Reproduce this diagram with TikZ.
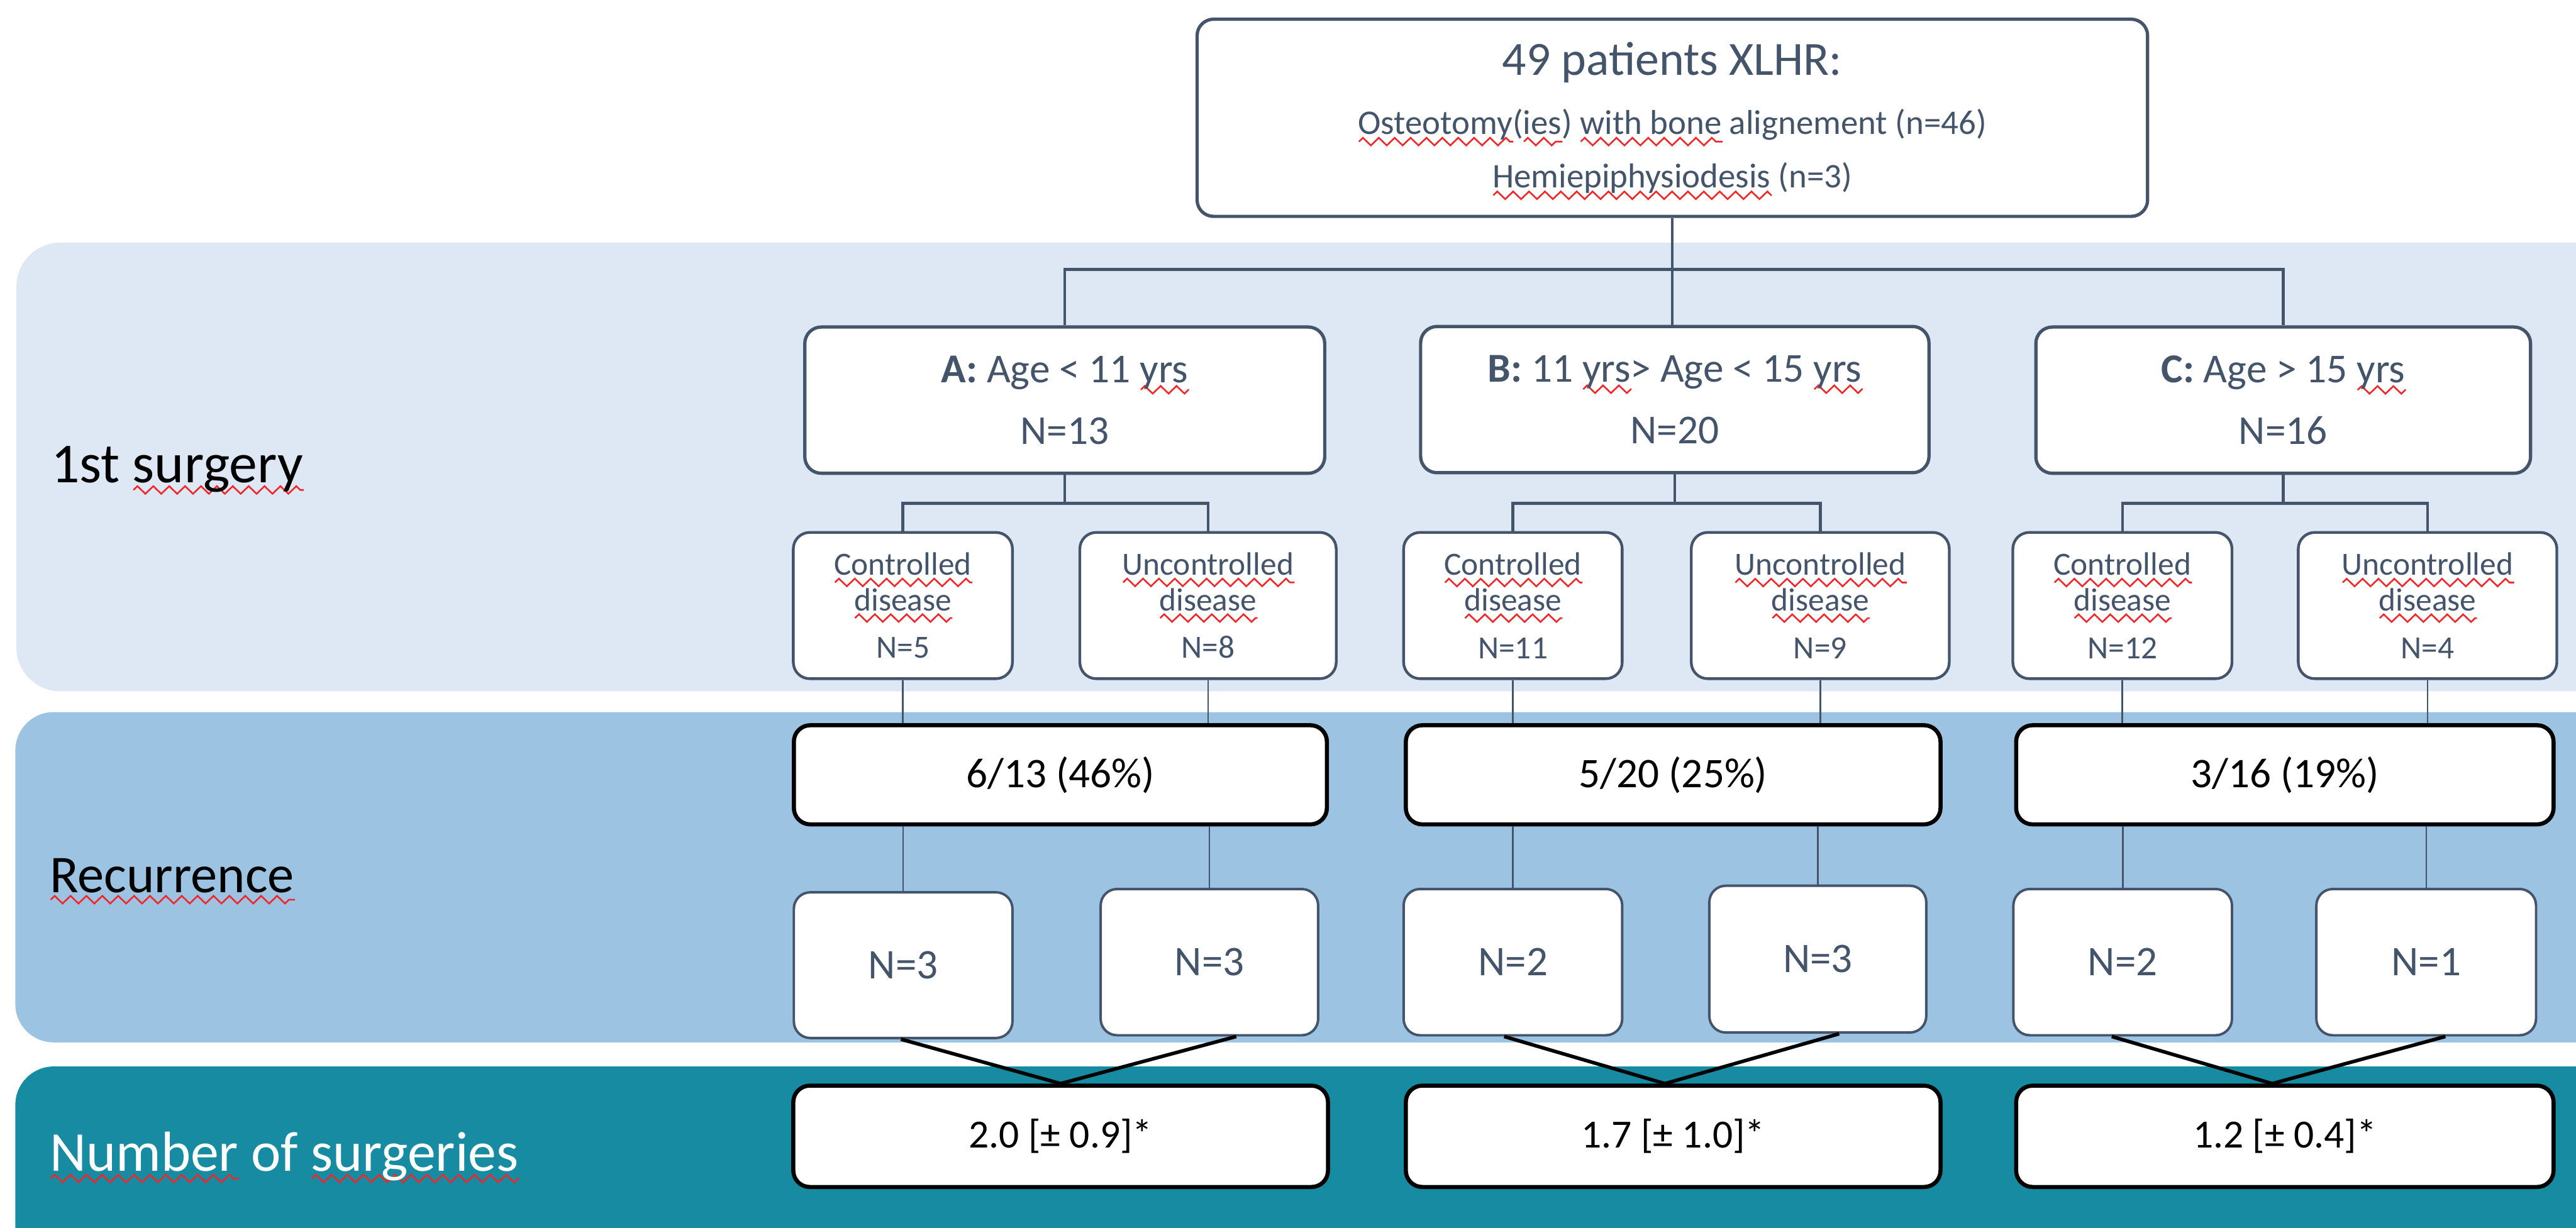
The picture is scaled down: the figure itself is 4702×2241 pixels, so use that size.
\documentclass[tikz,border=0pt]{standalone}
\usepackage{fontspec}
\setmainfont{Carlito}
\usepackage{xcolor}
\usetikzlibrary{decorations.pathmorphing}
\definecolor{slate}{HTML}{44546A}
\definecolor{bandA}{HTML}{DDE8F4}
\definecolor{bandB}{HTML}{9DC3E2}
\definecolor{bandC}{HTML}{168BA2}
\definecolor{sqred}{HTML}{F0282A}
\newsavebox\sqbox
\newcommand\sq[1]{\sbox\sqbox{#1}\leavevmode\rlap{\smash{\tikz[baseline=0pt,x=1pt,y=1pt]\draw[sqred,line width=0.3pt,sharp corners,line join=miter,decorate,decoration={zigzag,segment length=2.9pt,amplitude=0.7pt}] (0pt,-1.35pt) -- (\the\wd\sqbox,-1.35pt);}}\usebox\sqbox}
\tikzset{
  wbox/.style={draw=slate, fill=white, rounded corners=3pt, line width=0.6pt, align=center, inner sep=0pt, text=slate},
  agebox/.style={wbox, minimum height=26.7pt, font=\fontsize{7.5}{11.3}\selectfont},
  subbox/.style={wbox, line width=0.5pt, minimum height=26.7pt, font=\fontsize{5.9}{6.5}\selectfont},
  recbox/.style={wbox, draw=black, text=black, line width=0.75pt, minimum height=18.1pt, font=\fontsize{7.7}{9}\selectfont},
  nbox/.style={wbox, line width=0.45pt, font=\fontsize{7.7}{9}\selectfont},
  numbox/.style={recbox, minimum height=18.5pt, font=\fontsize{7.3}{9}\selectfont},
  conn/.style={draw=slate, line width=0.5pt},
  thinconn/.style={draw=slate, line width=0.3pt},
  vline/.style={draw=black, line width=0.65pt},
  bandlabel/.style={anchor=base west, inner sep=0pt},
  toptext/.style={anchor=base, inner sep=0pt, text=slate}
}
\begin{document}
\begin{tikzpicture}[x=0.1pt,y=-0.1pt]
\useasboundingbox (0,0) rectangle (4702,2241);
\clip (0,0) rectangle (4702,2241);
% bands
\fill[bandA, rounded corners=8pt] (30,443) rectangle (4900,1262);
\fill[bandB, rounded corners=7pt] (28,1300) rectangle (4900,1903);
\fill[bandC, rounded corners=7pt] (28,1947) rectangle (4900,2400);
% band labels
\node[bandlabel, font=\fontsize{10.3}{12}\selectfont] (lab1) at (91,881) {1st \sq{surgery}};
\node[bandlabel, font=\fontsize{9.7}{12}\selectfont] (lab2) at (89,1629) {\sq{Recurrence}};
\node[bandlabel, text=white, font=\fontsize{10.3}{12}\selectfont] (lab3) at (89,2138) {\sq{Number} of \sq{surgeries}};
% top box
\node[wbox, minimum width=173.5pt, minimum height=36pt] (top) at (3052.5,215) {};
\node[toptext, font=\fontsize{8.7}{10}\selectfont] (t1) at (3052.5,137) {49 patients XLHR:};
\node[toptext, font=\fontsize{6.3}{8}\selectfont] (t2) at (3052.5,245) {\sq{Osteotomy}(\sq{ies}) \sq{with bone} alignement (n=46)};
\node[toptext, font=\fontsize{6.3}{8}\selectfont] (t3) at (3052.5,343) {\sq{Hemiepiphysiodesis} (n=3)};
% age boxes
\node[agebox, minimum width=94.9pt] (A) at (1943.5,730.5) {\textbf{A:} Age < 11 \sq{yrs}\\N=13};
\node[agebox, minimum width=92.8pt] (B) at (3057,729.5) {\textbf{B:} 11 \sq{yrs}> Age < 15 \sq{yrs}\\N=20};
\node[agebox, minimum width=90.3pt] (C) at (4167.5,730.5) {\textbf{C:} Age > 15 \sq{yrs}\\N=16};
% sub boxes
\node[subbox, minimum width=40pt] (Ac) at (1648,1105.5) {\sq{Controlled}\\\sq{disease}\\[2.2pt]N=5};
\node[subbox, minimum width=46.8pt] (Au) at (2205,1105.5) {\sq{Uncontrolled}\\\sq{disease}\\[2.2pt]N=8};
\node[subbox, minimum width=39.9pt] (Bc) at (2761.5,1105.5) {\sq{Controlled}\\\sq{disease}\\[2.2pt]N=11};
\node[subbox, minimum width=47.1pt] (Bu) at (3322.5,1105.5) {\sq{Uncontrolled}\\\sq{disease}\\[2.2pt]N=9};
\node[subbox, minimum width=40pt] (Cc) at (3874,1105.5) {\sq{Controlled}\\\sq{disease}\\[2.2pt]N=12};
\node[subbox, minimum width=47.2pt] (Cu) at (4431,1105.5) {\sq{Uncontrolled}\\\sq{disease}\\[2.2pt]N=4};
% recurrence boxes
\node[recbox, minimum width=97.3pt] (Ar) at (1935.5,1414.5) {6/13 (46\%)};
\node[recbox, minimum width=97.6pt] (Br) at (3054,1414.5) {5/20 (25\%)};
\node[recbox, minimum width=98.1pt] (Cr) at (4170.5,1414.5) {3/16 (19\%)};
% N boxes
\node[nbox, minimum width=39.9pt, minimum height=26.6pt] (An1) at (1648.5,1762) {N=3};
\node[nbox, minimum width=39.7pt, minimum height=26.7pt] (An2) at (2207.5,1756.5) {N=3};
\node[nbox, minimum width=39.9pt, minimum height=26.7pt] (Bn1) at (2761.5,1756.5) {N=2};
\node[nbox, minimum width=39.6pt, minimum height=26.8pt] (Bn2) at (3318,1751) {N=3};
\node[nbox, minimum width=39.9pt, minimum height=26.7pt] (Cn1) at (3874.5,1756.5) {N=2};
\node[nbox, minimum width=40.1pt, minimum height=26.7pt] (Cn2) at (4428.5,1756.5) {N=1};
% number of surgeries boxes
\node[numbox, minimum width=97.6pt] (As) at (1936,2074.5) {2.0 [± 0.9]*};
\node[numbox, minimum width=97.6pt] (Bs) at (3054,2074.5) {1.7 [± 1.0]*};
\node[numbox, minimum width=98.1pt] (Cs) at (4170.5,2074.5) {1.2 [± 0.4]*};
% connectors: top level
\draw[conn] (top.south) -- ++(0,94) coordinate (hub);
\draw[conn] (A.north) |- (hub) -| (C.north);
\draw[conn] (hub) -- (hub |- B.north);
% connectors: age to sub
\draw[conn] (A.south) -- ++(0,52) coordinate (Aj);
\draw[conn] (Ac.north) |- (Aj) -| (Au.north);
\draw[conn] (B.south) -- ++(0,53) coordinate (Bj);
\draw[conn] (Bc.north) |- (Bj) -| (Bu.north);
\draw[conn] (C.south) -- ++(0,52) coordinate (Cj);
\draw[conn] (Cc.north) |- (Cj) -| (Cu.north);
% connectors: sub to recurrence
\foreach \s/\r in {Ac/Ar, Au/Ar, Bc/Br, Bu/Br, Cc/Cr, Cu/Cr}{
  \draw[thinconn] (\s.south) -- (\s.south |- \r.north);
}
\foreach \n/\r in {An1/Ar, An2/Ar, Bn1/Br, Bn2/Br, Cn1/Cr, Cn2/Cr}{
  \draw[thinconn] (\n.north) -- (\n.north |- \r.south);
}
% V lines
\draw[vline] ([xshift=-0.4pt]An1.south) -- (As.north) -- ([xshift=4.9pt]An2.south);
\draw[vline] ([xshift=-1.6pt]Bn1.south) -- ([xshift=-1.5pt]Bs.north) -- ([xshift=3.9pt]Bn2.south);
\draw[vline] ([xshift=-2pt]Cn1.south) -- ([xshift=-2.3pt]Cs.north) -- ([xshift=3.5pt]Cn2.south);
\end{tikzpicture}
\end{document}
